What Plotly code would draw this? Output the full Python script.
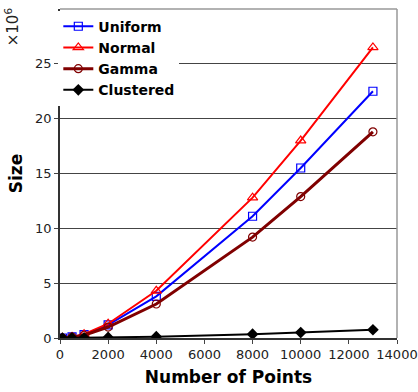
import plotly.graph_objects as go

x_points = [100, 500, 1000, 2000, 4000, 8000, 10000, 13000]
uniform = [0.0, 0.1, 0.3, 1.2, 3.8, 11.1, 15.5, 22.5]
normal = [0.0, 0.1, 0.35, 1.3, 4.3, 12.8, 18.0, 26.5]
gamma = [0.0, 0.08, 0.25, 1.0, 3.1, 9.2, 12.9, 18.8]
clustered = [0.0, 0.01, 0.02, 0.05, 0.12, 0.35, 0.5, 0.75]

x_ticks = [0, 2000, 4000, 6000, 8000, 10000, 12000, 14000]
x_tick_labels = ["0", "2000", "4000", "6000", "8000", "10000", "12000", "14000"]
y_ticks = [0, 5, 10, 15, 20, 25]
y_tick_labels = ["0", "5", "10", "15", "20", "25"]

fig = go.Figure()
fig.add_trace(go.Scatter(x=x_points, y=uniform, name="<b>Uniform</b>", mode="lines+markers",
                         line=dict(color="#0000ff", width=2),
                         marker=dict(symbol="square-open", size=8, color="#0000ff", line=dict(width=1.2))))
fig.add_trace(go.Scatter(x=x_points, y=normal, name="<b>Normal</b>", mode="lines+markers",
                         line=dict(color="#ff0000", width=2),
                         marker=dict(symbol="triangle-up-open", size=9, color="#ff0000", line=dict(width=1.2))))
fig.add_trace(go.Scatter(x=x_points, y=gamma, name="<b>Gamma</b>", mode="lines+markers",
                         line=dict(color="#800000", width=3),
                         marker=dict(symbol="circle-open", size=8, color="#800000", line=dict(width=1.2))))
fig.add_trace(go.Scatter(x=x_points, y=clustered, name="<b>Clustered</b>", mode="lines+markers",
                         line=dict(color="#000000", width=2),
                         marker=dict(symbol="diamond", size=9, color="#000000")))

fig.update_layout(
    width=418, height=392,
    margin=dict(l=60, r=21, t=9, b=54, autoexpand=False),
    paper_bgcolor="white", plot_bgcolor="white",
    font=dict(family="DejaVu Sans", size=13, color="#222"),
    showlegend=True,
    legend=dict(x=-0.005, y=0.995, xanchor="left", yanchor="top",
                bgcolor="white", borderwidth=0,
                font=dict(size=14, color="black", family="DejaVu Sans"),
                itemwidth=30, tracegroupgap=0),
    xaxis=dict(range=[0, 14000], tickvals=x_ticks, ticktext=x_tick_labels, ticks="outside", ticklen=4,
               showgrid=False, zeroline=False, showline=True, linecolor="#333", linewidth=1.5,
               tickfont=dict(size=13), automargin=False,
               title=dict(text="<b>Number of Points</b>", font=dict(size=17, color="black"), standoff=10)),
    yaxis=dict(range=[0, 30], tickvals=y_ticks, ticktext=y_tick_labels, ticks="outside", ticklen=4,
               showgrid=True, gridcolor="#444", gridwidth=1,
               zeroline=False, showline=True, linecolor="#333", linewidth=1.5,
               tickfont=dict(size=13), automargin=False,
               title=dict(text="<b>Size</b>", font=dict(size=17, color="black"), standoff=8)),
    shapes=[
        dict(type="line", xref="paper", yref="paper", x0=0, x1=1, y0=1, y1=1,
             line=dict(color="#999", width=1.5)),
        dict(type="line", xref="paper", yref="paper", x0=1, x1=1, y0=0, y1=1,
             line=dict(color="#999", width=1.5)),
    ],
    annotations=[
        dict(text="×10<sup>6</sup>", xref="paper", yref="paper", x=-0.142, y=0.945,
             showarrow=False, textangle=-90, font=dict(size=15, color="#222"),
             xanchor="center", yanchor="middle"),
    ],
)

fig.write_html("out.html")
